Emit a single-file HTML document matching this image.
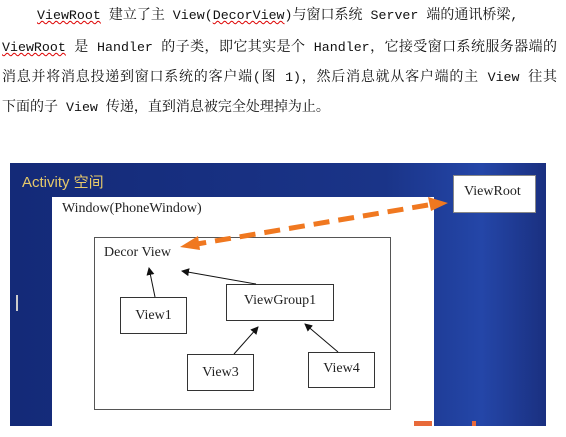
<!DOCTYPE html>
<html><head><meta charset="utf-8"><style>
body{margin:0;width:566px;height:426px;background:#fff;overflow:hidden;position:relative;font-family:"Liberation Serif","Noto Serif CJK SC",serif}
.t{position:absolute;left:0;font-size:14px;color:#111;white-space:nowrap;font-family:"Noto Serif CJK SC",serif;letter-spacing:0}
.j{white-space:normal;width:555px;text-align:justify;text-align-last:justify;text-justify:inter-character}
.m{font-family:"Liberation Mono",monospace;font-size:13.3px}
.u{text-decoration:underline wavy #d00;text-decoration-thickness:1px}
.b{position:absolute;background:#fff;border:1px solid #333;box-sizing:border-box;font-size:14px;color:#222;text-align:center}
</style></head><body>
<div class="t" style="top:4px;left:37px"><span class="m"><span class="u">ViewRoot</span> </span>建立了主<span class="m"> View(<span class="u">DecorView</span>)</span>与窗口系统<span class="m"> Server </span>端的通讯桥梁<span class="m">,</span></div>
<div class="t j" style="top:36px;left:2px"><span class="m"><span class="u">ViewRoot</span> </span>是<span class="m"> Handler </span>的子类，即它其实是个<span class="m"> Handler</span>，它接受窗口系统服务器端的</div>
<div class="t j" style="top:66px;left:2px">消息并将消息投递到窗口系统的客户端<span class="m">(</span>图<span class="m"> 1)</span>，然后消息就从客户端的主<span class="m"> View </span>往其</div>
<div class="t" style="top:96px;left:2px">下面的子<span class="m"> View </span>传递，直到消息被完全处理掉为止。</div>

<div style="position:absolute;left:10px;top:163px;width:536px;height:263px;background:linear-gradient(90deg,#142a78 0%,#1a3488 70%,#2446a8 88%,#1a3080 100%)"></div>
<div style="position:absolute;left:22px;top:171px;font-size:15px;color:#e6c96a;font-family:'Liberation Sans','Noto Sans CJK SC',sans-serif">Activity 空间</div>
<div style="position:absolute;left:16px;top:295px;width:2px;height:16px;background:#ccc"></div>
<div class="b" style="left:453px;top:175px;width:83px;height:38px;text-align:left;padding:8px 0 0 10px;border-color:#888">ViewRoot</div>
<div style="position:absolute;left:52px;top:197px;width:382px;height:240px;background:#fff"></div>
<div style="position:absolute;left:62px;top:201px;font-size:14px;color:#222">Window(PhoneWindow)</div>
<div class="b" style="left:94px;top:237px;width:297px;height:173px;border-color:#555"></div>
<div style="position:absolute;left:104px;top:245px;font-size:14px;color:#222">Decor View</div>
<div class="b" style="left:120px;top:297px;width:67px;height:37px;line-height:35px">View1</div>
<div class="b" style="left:226px;top:284px;width:108px;height:37px;line-height:31px">ViewGroup1</div>
<div class="b" style="left:187px;top:354px;width:67px;height:37px;line-height:35px">View3</div>
<div class="b" style="left:308px;top:352px;width:67px;height:36px;line-height:31px">View4</div>
<svg style="position:absolute;left:0;top:0" width="566" height="426">
<defs><marker id="a" markerWidth="8" markerHeight="8" refX="7" refY="4" orient="auto" markerUnits="userSpaceOnUse"><path d="M0,0 L8,4 L0,8z" fill="#111"/></marker></defs>
<g stroke="#111" stroke-width="1" marker-end="url(#a)">
<line x1="155" y1="297" x2="149" y2="268"/>
<line x1="256" y1="284" x2="182" y2="271"/>
<line x1="234" y1="354" x2="258" y2="327"/>
<line x1="338" y1="352" x2="305" y2="324"/>
</g>
<line x1="428" y1="205" x2="197" y2="244" stroke="#f07820" stroke-width="5" stroke-dasharray="16,9"/>
<path d="M448,203 L428,197 L431,211z" fill="#f07820"/>
<path d="M180,247 L198,236 L200,250z" fill="#f07820"/>
<rect x="414" y="421" width="18" height="5" fill="#e86a3a"/>
<rect x="472" y="421" width="4" height="5" fill="#e86a3a"/>
</svg>
</body></html>
